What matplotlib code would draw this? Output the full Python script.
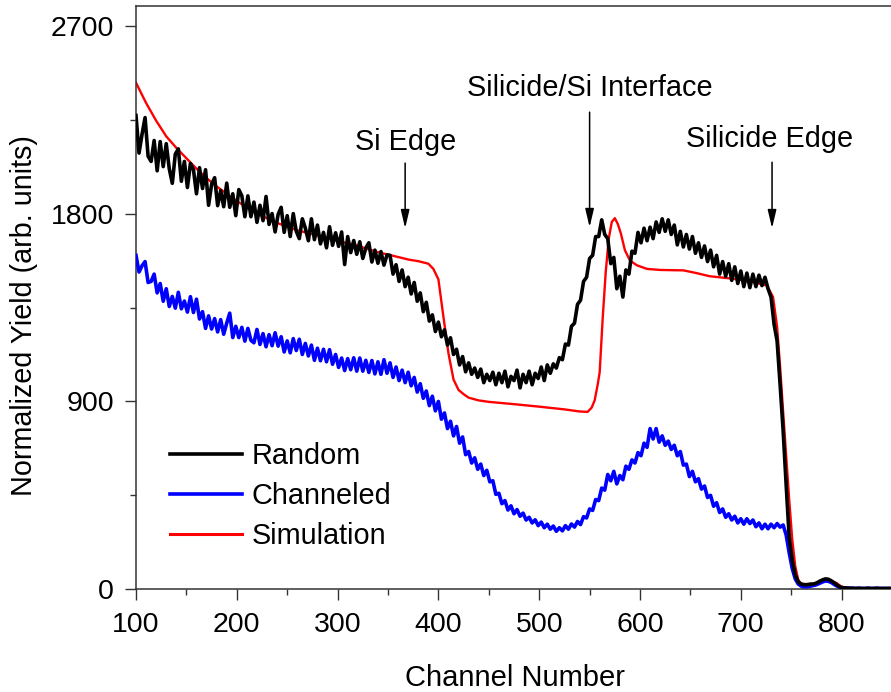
import numpy as np
import matplotlib
matplotlib.use('Agg')
import matplotlib.pyplot as plt

plt.rcParams['font.family'] = ['Liberation Sans', 'DejaVu Sans']

# Random and channeled spectra, one value every 3 channels starting at channel 100
random_yield = [
    2270, 2090, 2180, 2260, 2075, 2050, 2150, 2005, 2145, 2025,
    2135, 2015, 1945, 2085, 2110, 1955, 2050, 1925, 2040, 2010,
    1895, 2020, 1920, 2010, 1840, 1940, 1972, 1838, 1910, 1833,
    1946, 1830, 1895, 1790, 1915, 1885, 1785, 1885, 1785, 1855,
    1758, 1840, 1766, 1882, 1748, 1800, 1712, 1796, 1830, 1710,
    1790, 1690, 1800, 1715, 1680, 1775, 1730, 1670, 1775, 1675,
    1745, 1655, 1710, 1636, 1737, 1648, 1708, 1643, 1712, 1556,
    1690, 1613, 1671, 1605, 1665, 1585, 1635, 1660, 1568, 1625,
    1562, 1618, 1553, 1602, 1600, 1510, 1555, 1475, 1530, 1450,
    1495, 1415, 1470, 1380, 1420, 1330, 1375, 1285, 1315, 1235,
    1280, 1210, 1243, 1170, 1205, 1125, 1150, 1075, 1115, 1042,
    1085, 1030, 1060, 1015, 1055, 990, 1030, 1000, 1040, 980,
    1035, 990, 1045, 970, 1020, 1000, 1050, 965, 1030, 990,
    1045, 980, 1035, 1010, 1065, 1000, 1075, 1035, 1080, 1060,
    1110, 1100, 1175, 1170, 1260, 1275, 1365, 1385, 1475, 1495,
    1585, 1600, 1690, 1690, 1770, 1700, 1680, 1560, 1590, 1440,
    1500, 1400, 1530, 1510, 1620, 1610, 1710, 1660, 1730, 1670,
    1735, 1680, 1760, 1710, 1775, 1715, 1770, 1700, 1745, 1650,
    1715, 1640, 1700, 1630, 1690, 1610, 1660, 1590, 1645, 1570,
    1625, 1545, 1600, 1510, 1570, 1500, 1560, 1480, 1545, 1465,
    1525, 1450, 1515, 1445, 1510, 1450, 1505, 1455, 1495, 1440,
    1400, 1270, 1190, 980, 760, 500, 250, 140, 70, 35,
    25, 22, 22, 25, 25, 30, 38, 45, 50, 48,
    40, 30, 18, 10, 7, 6, 5, 5, 4, 5,
    4, 4, 5, 4, 4, 5, 4, 4, 4, 4,
    4,
]

channeled_yield = [
    1600, 1520, 1550, 1570, 1470, 1475, 1510, 1420, 1465, 1380,
    1440, 1355, 1403, 1347, 1423, 1344, 1381, 1328, 1402, 1326,
    1390, 1295, 1330, 1250, 1310, 1247, 1297, 1233, 1292, 1222,
    1275, 1323, 1206, 1260, 1206, 1255, 1189, 1250, 1193, 1181,
    1245, 1173, 1225, 1162, 1220, 1167, 1229, 1165, 1210, 1137,
    1190, 1133, 1201, 1144, 1198, 1125, 1178, 1118, 1170, 1097,
    1155, 1095, 1150, 1090, 1148, 1078, 1125, 1063, 1108, 1048,
    1105, 1052, 1109, 1045, 1108, 1045, 1097, 1039, 1096, 1032,
    1090, 1030, 1100, 1035, 1085, 1015, 1065, 1000, 1050, 990,
    1040, 975, 1015, 945, 985, 915, 950, 880, 925, 855,
    900, 815, 845, 770, 805, 735, 780, 700, 730, 645,
    660, 605, 630, 575, 600, 545, 570, 515, 520, 455,
    460, 410, 425, 380, 400, 362, 382, 350, 365, 332,
    345, 318, 333, 305, 322, 295, 312, 288, 303, 278,
    295, 280, 305, 288, 313, 298, 325, 310, 348, 342,
    385, 378, 430, 425, 485, 475, 550, 520, 565, 505,
    545, 525, 590, 575, 620, 605, 655, 640, 700, 680,
    770, 720, 770, 705, 735, 690, 710, 670, 690, 640,
    660, 595, 600, 540, 565, 515, 530, 480, 495, 440,
    450, 398, 415, 368, 385, 345, 362, 332, 350, 318,
    338, 312, 338, 315, 332, 300, 318, 290, 312, 290,
    312, 295, 315, 298, 308, 260, 175, 100, 50, 25,
    15, 12, 12, 15, 18, 22, 28, 35, 40, 38,
    32, 22, 14, 8, 6, 5, 5, 5, 4, 5,
    4, 4, 5, 4, 4, 5, 4, 4, 4, 4,
    4,
]

# Simulated spectrum (smooth)
sim_channel = [100, 110, 120, 130, 140, 150, 160, 170, 180, 190, 200, 220, 240,
               260, 280, 300, 320, 340, 360, 370, 380, 390, 395, 400, 405, 410,
               415, 420, 425, 430, 440, 450, 475, 500, 525, 540, 548, 552, 555,
               558, 560, 563, 566, 569, 572, 575, 578, 581, 585, 590, 597, 607,
               620, 643, 656, 669, 692, 710, 726, 732, 736, 739, 742, 745, 748,
               751, 754, 757, 760, 770, 780, 787, 795, 800, 810, 850]
sim_yield = [2427, 2330, 2245, 2170, 2115, 2065, 2015, 1970, 1930, 1895, 1860,
             1800, 1755, 1720, 1695, 1670, 1645, 1615, 1592, 1580, 1572, 1560,
             1535, 1485, 1305, 1130, 1005, 955, 935, 918, 905, 898, 887, 875,
             862, 852, 850, 870, 905, 980, 1040, 1300, 1520, 1680, 1760, 1778,
             1750, 1705, 1625, 1575, 1552, 1535, 1530, 1528, 1515, 1500, 1488,
             1475, 1455, 1400, 1257, 1065, 850, 640, 430, 240, 110, 45, 25, 25,
             35, 45, 30, 12, 5, 5]

channel = np.arange(100, 100 + 3 * len(random_yield), 3)

fig = plt.figure(figsize=(8.91, 6.92), dpi=100)
ax = fig.add_axes([136 / 891, 1 - 589.3 / 692, 755 / 891, 583.6 / 692])

ax.plot(sim_channel, sim_yield, color='#ff0000', lw=1.7, zorder=2)
l_chan, = ax.plot(channel, channeled_yield, color='#0000ff', lw=2.6, zorder=3)
l_rand, = ax.plot(channel, random_yield, color='black', lw=2.6, zorder=4)
l_sim, = ax.plot([], [], color='#ff0000', lw=2.2)

ax.set_xlim(100, 849)
ax.set_ylim(0, 2796)
ax.set_xticks([100, 200, 300, 400, 500, 600, 700, 800])
ax.set_xticks([150, 250, 350, 450, 550, 650, 750], minor=True)
ax.set_yticks([0, 900, 1800, 2700])
ax.set_yticks([450, 1350, 2250], minor=True)
ax.tick_params(which='major', direction='out', length=8, width=1, labelsize=20.5,
               pad=8.5, color='#333333')
ax.tick_params(which='minor', direction='out', length=4.5, width=1, color='#333333')
ax.tick_params(axis='y', which='major', pad=8)
for side in ['left', 'bottom', 'top']:
    ax.spines[side].set_color('#333333')
    ax.spines[side].set_linewidth(1.1)
ax.spines['right'].set_visible(False)

fig.text(515 / 891, 1 - 686 / 692, 'Channel Number', fontsize=21, ha='center', va='baseline')
fig.text(24 / 891, 1 - 316 / 692, 'Normalized Yield (arb. units)', fontsize=20.7,
         rotation=90, ha='center', va='center')

arrow = dict(arrowstyle='-|>,head_length=11,head_width=2.6', mutation_scale=1,
             color='black', lw=1.1, shrinkA=0, shrinkB=0)
ax.text(367, 2104, 'Si Edge', fontsize=20.8, ha='center', va='baseline')
ax.annotate('', xy=(367, 1730), xytext=(367, 2042), arrowprops=arrow)
ax.text(550, 2364, 'Silicide/Si Interface', fontsize=20.8, ha='center', va='baseline')
ax.annotate('', xy=(550, 1735), xytext=(550, 2286), arrowprops=arrow)
ax.text(729, 2120, 'Silicide Edge', fontsize=20.8, ha='center', va='baseline')
ax.annotate('', xy=(731, 1730), xytext=(731, 2046), arrowprops=arrow)

ax.legend([l_rand, l_chan, l_sim], ['Random', 'Channeled', 'Simulation'],
          loc='upper left', bbox_to_anchor=(0.045, 0.252), frameon=False,
          fontsize=20.8, handlelength=2.5, handletextpad=0.32, labelspacing=0.42,
          borderpad=0, borderaxespad=0)

fig.savefig('out.png', dpi=100)
